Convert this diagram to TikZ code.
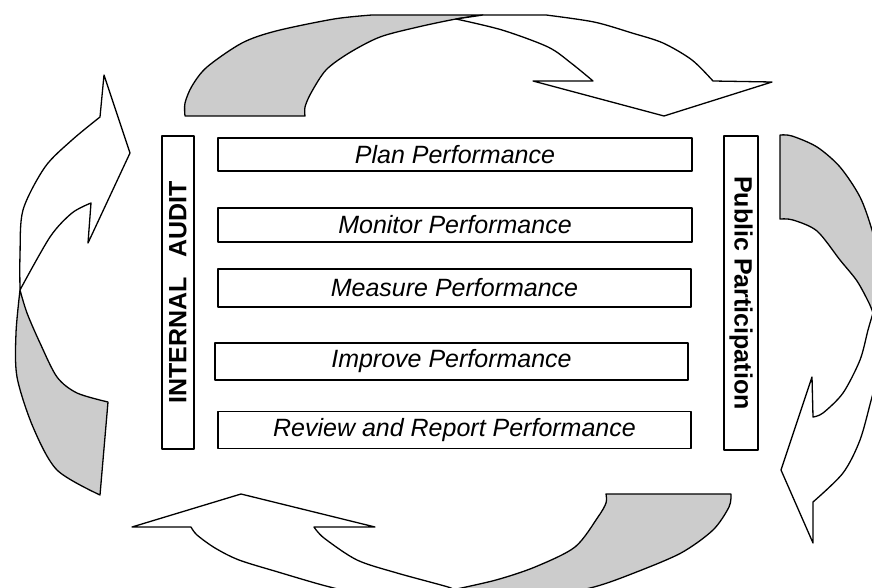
\documentclass[tikz,border=0pt]{standalone}
\usepackage{fontspec}
\setmainfont{Liberation Sans}
\definecolor{backgray}{RGB}{204,204,204}
\begin{document}
\begin{tikzpicture}[x=1pt,y=-1pt,line join=round,
  stagebox/.style={draw=black,line width=1.3pt,fill=white,inner sep=0pt,font=\fontsize{25}{30}\selectfont\itshape},
  sidebox/.style={draw=black,line width=1.3pt,fill=white,inner sep=0pt,font=\fontsize{25}{30}\selectfont\bfseries},
  ribbonback/.style={draw=black,line width=1.3pt,fill=backgray},
  ribbonfront/.style={draw=black,line width=1.3pt,fill=white}]
\useasboundingbox (0,0) rectangle (872,588);
\clip (0,0) rectangle (872,588);

% ---------- top curved arrow ----------
\path[ribbonback] (185,116) -- plot[smooth] coordinates {(185,116) (185,103) (192,86) (207,67) (242,43) (276,31) (334,19) (372,15)}
  -- (483,15) -- plot[smooth] coordinates {(483,15) (456,19) (418,27) (380,37) (349,53) (326,70) (311,93) (305,107) (305,116)} -- cycle;
\path[ribbonfront] (456,19) -- (483,15) -- (546,15)
  -- plot[smooth] coordinates {(546,15) (594,22) (632,33) (663,43) (692,60) (713,81)}
  -- (772,82) -- (664,116) -- (533,81) -- (593,81)
  -- plot[smooth] coordinates {(593,81) (571,63) (548,47) (502,30) (456,19)} -- cycle;

% ---------- left curved arrow ----------
\path[ribbonback] (20,290) -- plot[smooth] coordinates {(20,290) (16,333) (17,377) (33,427) (57,470) (100,495)}
  -- (108,402) -- plot[smooth] coordinates {(108,402) (77,393) (57,377) (40,343) (27,313) (20,290)} -- cycle;
\path[ribbonfront] (100,117) -- (104,75) -- (130,153) -- (88,243) -- (91,203)
  -- plot[smooth] coordinates {(91,203) (72,213) (50,237) (20,290)}
  -- plot[smooth] coordinates {(20,290) (20,255) (23,210) (45,167) (72,140) (100,117)} -- cycle;

% ---------- right curved arrow ----------
\path[ribbonback] (780,135) -- plot[smooth] coordinates {(780,135) (792,136) (817,147) (840,167) (860,197) (872,230) (882,270) (888,313)}
  -- (873,313) -- plot[smooth] coordinates {(873,313) (869,303) (857,281) (840,260) (817,231) (793,220) (780,219)} -- cycle;
\path[ribbonfront] (873,313) -- (888,313)
  -- plot[smooth] coordinates {(888,313) (884,355) (872,397) (860,440) (843,473) (813,502)}
  -- (813,543) -- (781,470) -- (812,377) -- (813,417)
  -- plot[smooth] coordinates {(813,417) (823,413) (843,393) (860,360) (868,330) (873,313)} -- cycle;

% ---------- bottom curved arrow ----------
\path[ribbonback] (606,494) -- (731,494)
  -- plot[smooth] coordinates {(731,494) (729,507) (713,530) (681,553) (634,573) (594,587) (540,598) (480,602)}
  -- (452,590) -- plot[smooth] coordinates {(452,590) (496,580) (535,567) (575,547) (598,517) (606,503) (606,494)} -- cycle;
\path[ribbonfront] (452,590) -- (420,602)
  -- plot[smooth] coordinates {(420,602) (370,596) (326,586) (278,572) (239,560) (215,548) (197,535) (191,527)}
  -- (132,527) -- (241,494) -- (375,527) -- (314,527)
  -- plot[smooth] coordinates {(314,527) (324,538) (357,560) (397,573) (448,587) (452,590)} -- cycle;

% ---------- boxes ----------
\node[sidebox,rotate=90,minimum width=313pt,minimum height=32pt] (audit) at (178,292.5) {INTERNAL\hspace{0.8em}AUDIT};
\node[sidebox,rotate=-90,minimum width=314pt,minimum height=34pt] (public) at (741,293) {Public Participation};

\node[stagebox,minimum width=474pt,minimum height=33pt] (plan) at (455,154.5) {Plan Performance};
\node[stagebox,minimum width=474pt,minimum height=34pt] (monitor) at (455,225) {Monitor Performance};
\node[stagebox,minimum width=473pt,minimum height=38pt] (measure) at (454.5,288) {Measure Performance};
\node[stagebox,minimum width=473pt,minimum height=37pt] (improve) at (451.5,361.5) {Improve Performance};
\node[stagebox,minimum width=473pt,minimum height=37pt] (review) at (454.5,430) {Review and Report Performance};
\end{tikzpicture}
\end{document}
